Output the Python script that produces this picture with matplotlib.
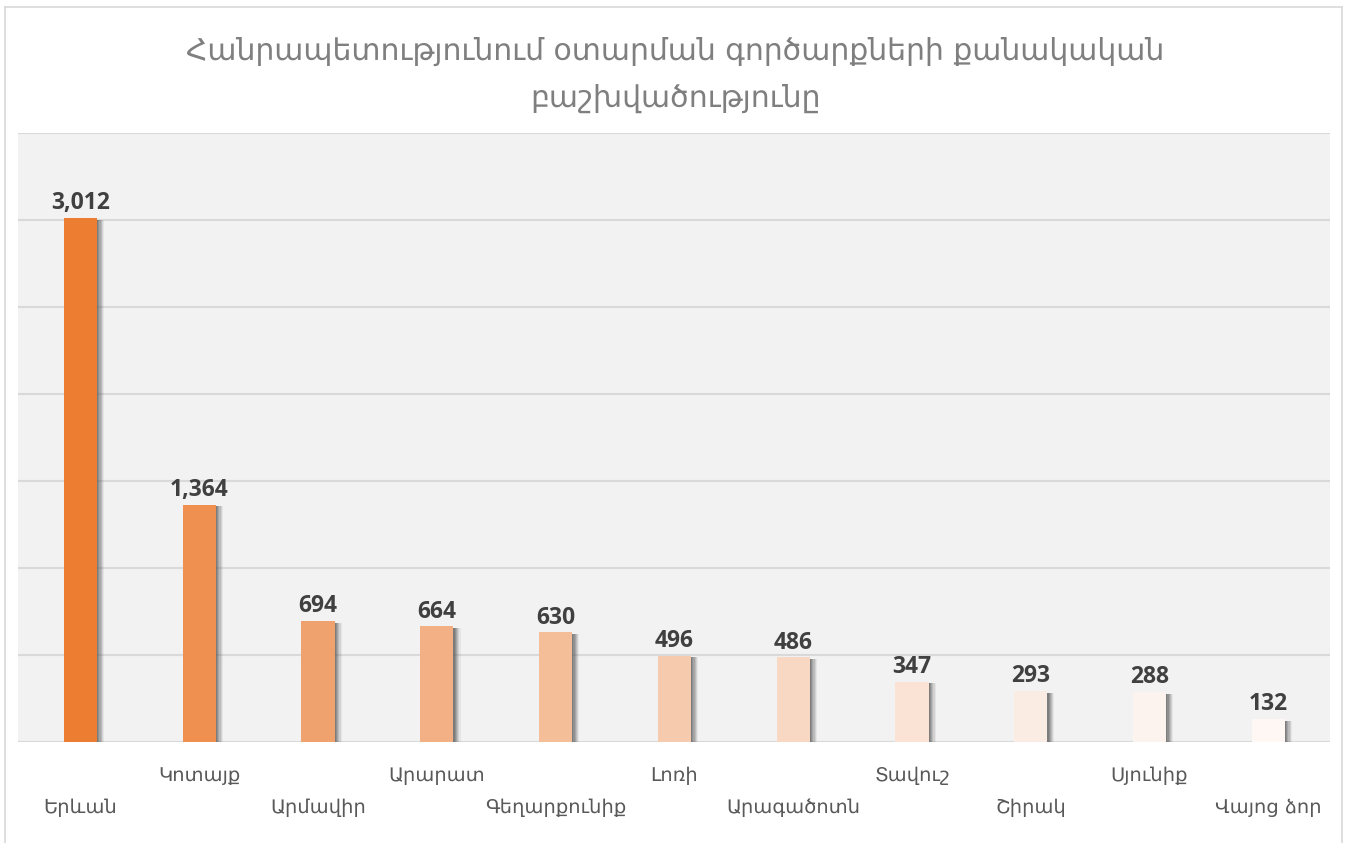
import matplotlib.pyplot as plt
from matplotlib.lines import Line2D

# 데이터
regions = ['Երևան', 'Կոտայք', 'Արմավիր', 'Արարատ', 'Գեղարքունիք', 'Լոռի',
           'Արագածոտն', 'Տավուշ', 'Շիրակ', 'Սյունիք', 'Վայոց ձոր']
counts = [3012, 1364, 694, 664, 630, 496, 486, 347, 293, 288, 132]
title = 'Հանրապետությունում օտարման գործարքների քանակական\nբաշխվածությունը'

bar_colors = ['#ED7D31', '#EF8F50', '#F0A26E', '#F2B084', '#F4BE99', '#F6CBAD',
              '#F8D8C3', '#FAE3D5', '#FBECE3', '#FDF3EE', '#FEF7F3']

fig = plt.figure(figsize=(13.51, 8.43), dpi=100)
ax = fig.add_axes([0.0133, 0.1198, 0.9712, 0.7224])
ax.set_facecolor('#F2F2F2')

x = list(range(len(regions)))
w = 0.28

# 그림자 (흐릿하게 여러 겹)
for off, a in [(0.01, 0.30), (0.02, 0.26), (0.03, 0.22), (0.04, 0.18),
               (0.05, 0.13), (0.06, 0.08)]:
    ax.bar([i + off for i in x], [v - 10 for v in counts], width=w, color='#555555',
           alpha=a, zorder=2, linewidth=0)

bars = ax.bar(x, counts, width=w, color=bar_colors, zorder=3, linewidth=0)
ax.bar_label(bars, labels=[f'{v:,}' for v in counts], padding=2,
             fontsize=16.5, fontweight='bold', color='#404040',
             family=['Open Sans', 'DejaVu Sans'])

ax.set_xlim(-0.526, 10.52)
ax.set_ylim(0, 3500)
ax.set_yticks(range(0, 3501, 500))
ax.yaxis.grid(True, color='#D9D9D9', linewidth=1.5, zorder=0)
ax.set_axisbelow(True)
ax.tick_params(axis='y', left=False, labelleft=False)
for s in ax.spines.values():
    s.set_visible(False)

ax.set_xticks(x)
ax.set_xticklabels(regions, fontsize=14, color='#595959', family='DejaVu Sans')
ax.tick_params(axis='x', length=0)
for i, t in enumerate(ax.xaxis.get_major_ticks()):
    t.set_pad(40 if i % 2 == 0 else 17)

fig.text(0.5, 0.911, title, ha='center', va='center', fontsize=21.5,
         color='#7F7F7F', family='DejaVu Sans', linespacing=1.75)

# 바깥 테두리
fig.add_artist(Line2D([0.0037, 0.0037], [0, 0.9917], color='#D9D9D9', lw=1.2))
fig.add_artist(Line2D([0.0037, 0.9933], [0.9917, 0.9917], color='#D9D9D9', lw=1.2))
fig.add_artist(Line2D([0.9933, 0.9933], [0, 0.9917], color='#D9D9D9', lw=1.2))

fig.savefig('out.png', dpi=100)
